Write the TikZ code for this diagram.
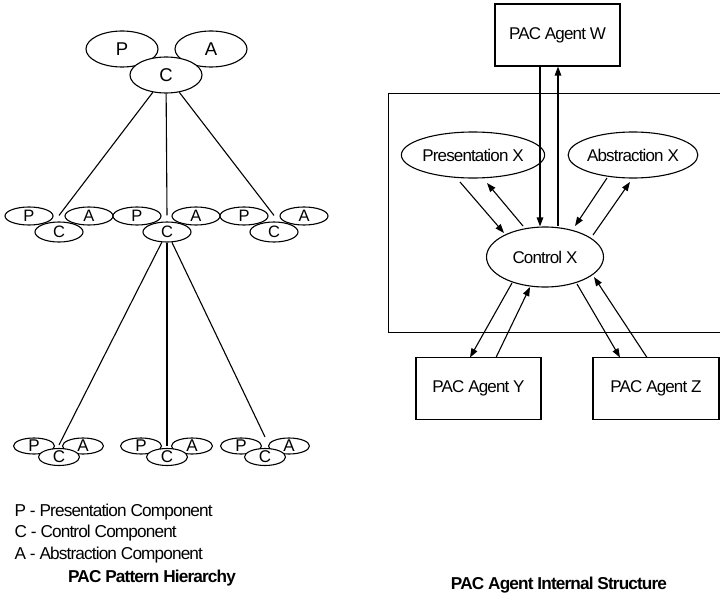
\documentclass[tikz,border=0pt]{standalone}
\usepackage{fontspec}
\setmainfont{Liberation Sans}[LetterSpace=-5]
\usetikzlibrary{shapes.geometric,arrows.meta,calc}
\begin{document}
\begin{tikzpicture}[x=1pt,y=-1pt, line width=1.1pt,
  el/.style={ellipse,draw,fill=white,inner sep=0pt},
  bigel/.style={el,minimum width=72pt,minimum height=36pt,font=\fontsize{18.5}{20}\selectfont},
  midel/.style={el,minimum width=48pt,minimum height=18pt,font=\fontsize{16.5}{17}\selectfont},
  midc/.style={midel,minimum height=20pt},
  smlel/.style={el,minimum width=41pt,minimum height=16pt,
     label={[font=\fontsize{17}{17}\selectfont,inner sep=0pt]center:#1}},
  smlc/.style={smlel=#1,minimum height=17pt},
  agent/.style={draw,rectangle,minimum width=125pt,minimum height=62pt,inner sep=0pt,
     font=\fontsize{17}{18}\selectfont},
  part/.style={el,minimum width=116pt,minimum height=46pt,font=\fontsize{17}{18}\selectfont},
  legend/.style={anchor=west,inner sep=0pt,font=\fontsize{17.2}{18}\selectfont},
  ttl/.style={inner sep=0pt,font=\fontsize{17.2}{18}\selectfont\bfseries},
  arr/.style={-{Triangle[length=9pt,width=6.5pt]}}
]
\useasboundingbox (0,0) rectangle (720,594);

% ---------- left: PAC pattern hierarchy ----------
\node[bigel] (tP) at (122,49) {P};
\node[bigel] (tA) at (211,49) {A};
\node[bigel] (tC) at (166,75) {C};

\node[midel] (m1P) at (29,216) {P};
\node[midel] (m1A) at (89,216) {A};
\node[midc]  (m1C) at (59,232) {C};
\node[midel] (m2P) at (137,216) {P};
\node[midel] (m2A) at (196,216) {A};
\node[midc]  (m2C) at (167,232) {C};
\node[midel] (m3P) at (244,216) {P};
\node[midel] (m3A) at (304,216) {A};
\node[midc]  (m3C) at (274,232) {C};

\node[smlel=P] (b1P) at (34,446) {};
\node[smlel=A] (b1A) at (83,446) {};
\node[smlc=C]  (b1C) at (59,457) {};
\node[smlel=P] (b2P) at (141,446) {};
\node[smlel=A] (b2A) at (192,446) {};
\node[smlc=C]  (b2C) at (167,457) {};
\node[smlel=P] (b3P) at (241,446) {};
\node[smlel=A] (b3A) at (289,446) {};
\node[smlc=C]  (b3C) at (265,457) {};

\draw (tC) -- ([yshift=6pt]m1C.north);
\draw (tC) -- ([yshift=6pt]m2C.north);
\draw (tC) -- ([yshift=6pt]m3C.north);

\draw (m2C) -- ([yshift=3pt]b1C.north);
\draw (m2C) -- ([yshift=2pt]b2C.north);
\draw (m2C) -- ([yshift=11pt]b3C.north);

\node[legend] (l1) at (14,512) {P - Presentation Component};
\node[legend] (l2) at (14,533) {C - Control Component};
\node[legend] (l3) at (14,555) {A - Abstraction Component};
\node[ttl] (t1) at (152,578) {PAC Pattern Hierarchy};

% ---------- right: PAC agent internal structure ----------
\node[draw,rectangle,anchor=north west,minimum width=340pt,minimum height=239pt,inner sep=0pt] (sys) at (388,93) {};
\node[agent] (W) at (557.5,35) {PAC Agent W};
\node[agent] (Y) at (478.5,388.5) {PAC Agent Y};
\node[agent,minimum width=126pt] (Z) at (656,388.5) {PAC Agent Z};
\node[part] (pres) at (473,155) {Presentation X};
\node[part] (abs) at (633,155) {Abstraction X};
\node[part,minimum width=117pt,minimum height=60pt] (ctrl) at (545,257) {Control X};

\draw[arr] ([xshift=-17.5pt]W.south) -- ([xshift=-5pt]ctrl.north);
\draw[arr] ([xshift=13pt]ctrl.north) -- ([xshift=0.5pt]W.south);

\draw[arr] ($(pres)+(-13,27)$) -- ($(ctrl)+(-41,-24)$);
\draw[arr] ($(ctrl)+(-22,-31)$) -- ($(pres)+(14,28)$);

\draw[arr] ($(abs)+(-26,23)$) -- ($(ctrl)+(30,-31)$);
\draw[arr] ($(ctrl)+(48,-22)$) -- ($(abs)+(-3,27)$);

\draw[arr] ($(ctrl)+(-33,26)$) -- ($(Y)+(-8.5,-31)$);
\draw[arr] ($(Y)+(17.5,-31)$) -- ($(ctrl)+(-15,30)$);

\draw[arr] ($(ctrl)+(32,27)$) -- ($(Z)+(-36,-31)$);
\draw[arr] ($(Z)+(-9,-31)$) -- ($(ctrl)+(49,20)$);

\node[ttl] (t2) at (559,585) {PAC Agent Internal Structure};
\end{tikzpicture}
\end{document}
